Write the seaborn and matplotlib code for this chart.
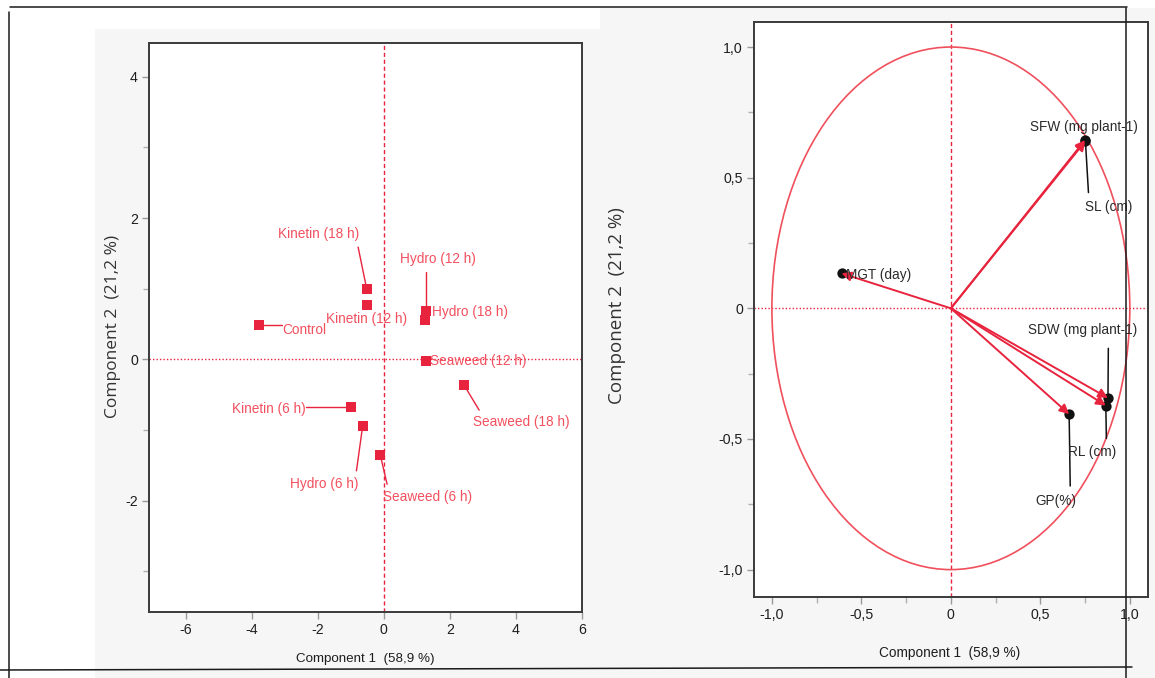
import numpy as np
import pandas as pd
import matplotlib
matplotlib.use("Agg")
import matplotlib.pyplot as plt
from matplotlib.lines import Line2D
from matplotlib.patches import Rectangle, Circle
from matplotlib.ticker import FixedLocator, FuncFormatter, MultipleLocator
import seaborn as sns

# ---------------- data ----------------
treatments = ["Kinetin (18 h)", "Kinetin (12 h)", "Control", "Hydro (12 h)", "Hydro (18 h)",
              "Seaweed (12 h)", "Seaweed (18 h)", "Kinetin (6 h)", "Hydro (6 h)", "Seaweed (6 h)"]
score_pc1 = [-0.52, -0.52, -3.77, 1.29, 1.26, 1.28, 2.44, -0.99, -0.64, -0.11]
score_pc2 = [1.00, 0.77, 0.48, 0.69, 0.55, -0.02, -0.37, -0.67, -0.94, -1.35]

variables = ["SFW (mg plant-1)", "SL (cm)", "MGT (day)", "SDW (mg plant-1)", "RL (cm)", "GP(%)"]
load_pc1 = [0.750, 0.752, -0.611, 0.878, 0.866, 0.661]
load_pc2 = [0.644, 0.640, 0.134, -0.343, -0.372, -0.405]

xlab = "Component 1  (58,9 %)"
ylab = "Component 2  (21,2 %)"

# ---------------- layout (label placement) ----------------
score_label_layout = {
    "Kinetin (18 h)": (-1.97, 1.78, "center", (-0.78, 1.59)),
    "Kinetin (12 h)": (-0.53, 0.57, "center", None),
    "Control": (-3.07, 0.41, "left", (-3.08, 0.48)),
    "Hydro (12 h)": (1.64, 1.42, "center", (1.29, 1.23)),
    "Hydro (18 h)": (1.45, 0.67, "left", None),
    "Seaweed (12 h)": (1.40, -0.03, "left", None),
    "Seaweed (18 h)": (4.18, -0.89, "center", (2.89, -0.72)),
    "Kinetin (6 h)": (-2.36, -0.70, "right", (-2.36, -0.67)),
    "Hydro (6 h)": (-1.82, -1.76, "center", (-0.83, -1.58)),
    "Seaweed (6 h)": (1.32, -1.95, "center", (0.10, -1.77)),
}
load_label_layout = {
    "SFW (mg plant-1)": (0.746, 0.693, "center", None),
    "SL (cm)": (0.884, 0.389, "center", (0.769, 0.443)),
    "MGT (day)": (-0.585, 0.126, "left", None),
    "SDW (mg plant-1)": (0.739, -0.084, "center", (0.880, -0.153)),
    "RL (cm)": (0.788, -0.549, "center", (0.869, -0.498)),
    "GP(%)": (0.587, -0.737, "center", (0.667, -0.680)),
}

RED = "#e8233d"
LABEL_RED = "#f2505e"
CIRC_RED = "#f0505c"
TICKC = "#1e1e1e"
SPINE = "#3a3a3a"
FS_TEXT = 9.8
FS_TICK = 10.2

sns.set_theme(style="ticks")
plt.rcParams["font.family"] = ["Liberation Sans Narrow", "Liberation Sans", "DejaVu Sans"]

W, H = 1155, 678
fig = plt.figure(figsize=(W / 100, H / 100), dpi=100)
fig.patch.set_facecolor("white")

def px(x0, y0, x1, y1):
    return [x0 / W, 1 - y1 / H, (x1 - x0) / W, (y1 - y0) / H]

fig.add_artist(Rectangle((95 / W, 0), 505 / W, (H - 29) / H, transform=fig.transFigure,
                         facecolor="#f6f6f6", edgecolor="none", zorder=-5))
fig.add_artist(Rectangle((600 / W, 0), 555 / W, (H - 8) / H, transform=fig.transFigure,
                         facecolor="#f6f6f6", edgecolor="none", zorder=-5))

ax1 = fig.add_axes(px(149, 43, 581.7, 611.7))
ax2 = fig.add_axes(px(754, 21.7, 1147.7, 597.3))

def style_axes(ax):
    ax.set_facecolor("white")
    for s in ax.spines.values():
        s.set_visible(True)
        s.set_color(SPINE)
        s.set_linewidth(1.4)
    ax.tick_params(which="major", direction="out", length=5, width=1, color="#9a9a9a",
                   labelsize=FS_TICK, labelcolor=TICKC, pad=3)
    ax.tick_params(which="minor", direction="out", length=4, width=1, color="#b0b0b0")
    ax.tick_params(top=False, right=False)

def comma_fmt(decimals):
    def f(v, pos):
        if abs(v) < 1e-9:
            return "0"
        return f"{v:.{decimals}f}".replace(".", ",")
    return FuncFormatter(f)

# ---------------- left: scores ----------------
df_s = pd.DataFrame({"treatment": treatments, "pc1": score_pc1, "pc2": score_pc2})
ax1.axvline(0, color=RED, lw=1.0, ls=(0, (3, 2)), zorder=1)
ax1.axhline(0, color=RED, lw=1.0, ls=(0, (1, 1.5)), zorder=1)
sns.scatterplot(data=df_s, x="pc1", y="pc2", ax=ax1, marker="s", s=42, color=RED,
                edgecolor=RED, linewidth=0, zorder=4, legend=False)
for t, x, y in zip(treatments, score_pc1, score_pc2):
    tx, ty, ha, lead = score_label_layout[t]
    if lead is not None:
        ax1.plot([lead[0], x], [lead[1], y], color=RED, lw=1.0, zorder=3)
    ax1.text(tx, ty, t, ha=ha, va="center", color=LABEL_RED, fontsize=FS_TEXT, zorder=5)
ax1.set_xlim(-7.12, 6.0)
ax1.set_ylim(-3.575, 4.48)
ax1.xaxis.set_major_locator(FixedLocator([-6, -4, -2, 0, 2, 4, 6]))
ax1.yaxis.set_major_locator(FixedLocator([-2, 0, 2, 4]))
ax1.yaxis.set_minor_locator(FixedLocator([-3, -1, 1, 3]))
ax1.xaxis.set_major_formatter(comma_fmt(0))
ax1.yaxis.set_major_formatter(comma_fmt(0))
style_axes(ax1)
ax1.set_xlabel("")
ax1.set_ylabel("")

# ---------------- right: loadings ----------------
df_l = pd.DataFrame({"var": variables, "pc1": load_pc1, "pc2": load_pc2})
ax2.axvline(0, color=RED, lw=1.0, ls=(0, (3, 2)), zorder=1)
ax2.axhline(0, color=RED, lw=1.0, ls=(0, (1, 1.5)), zorder=1)
ax2.add_patch(Circle((0, 0), 1.0, fill=False, edgecolor=CIRC_RED, lw=1.2, zorder=2))
sns.scatterplot(data=df_l, x="pc1", y="pc2", ax=ax2, marker="o", s=55, color="#111111",
                edgecolor="#111111", linewidth=0, zorder=3, legend=False)
for v, x, y in zip(variables, load_pc1, load_pc2):
    ax2.annotate("", xy=(x, y), xytext=(0, 0),
                 arrowprops=dict(arrowstyle="-|>", color=RED, lw=1.4, mutation_scale=14,
                                 shrinkA=0, shrinkB=0), zorder=4)
    tx, ty, ha, lead = load_label_layout[v]
    if lead is not None:
        ax2.plot([lead[0], x], [lead[1], y], color="#111111", lw=1.1, zorder=5)
    ax2.text(tx, ty, v, ha=ha, va="center", color="#2a2a2a", fontsize=FS_TEXT, zorder=6)
ax2.set_xlim(-1.1, 1.1)
ax2.set_ylim(-1.106, 1.097)
ax2.xaxis.set_major_locator(MultipleLocator(0.5))
ax2.yaxis.set_major_locator(MultipleLocator(0.5))
ax2.xaxis.set_minor_locator(FixedLocator([-0.75, -0.25, 0.25, 0.75]))
ax2.yaxis.set_minor_locator(FixedLocator([-0.75, -0.25, 0.25, 0.75]))
ax2.xaxis.set_major_formatter(comma_fmt(1))
ax2.yaxis.set_major_formatter(comma_fmt(1))
style_axes(ax2)
ax2.set_xlabel("")
ax2.set_ylabel("")

# axis titles
fig.text(365 / W, 1 - 659 / H, xlab, ha="center", va="center", fontsize=9.6, color=TICKC)
fig.text(950 / W, 1 - 653 / H, xlab, ha="center", va="center", fontsize=9.8, color=TICKC)
fig.text(113 / W, 1 - 326 / H, ylab, ha="center", va="center", rotation=90, fontsize=12.5,
         color="#333333", family=["Open Sans", "DejaVu Sans"])
fig.text(617 / W, 1 - 306 / H, ylab, ha="center", va="center", rotation=90, fontsize=13.5,
         color="#333333", family=["Open Sans", "DejaVu Sans"])

# screenshot frame lines
def fline(x0, y0, x1, y1):
    fig.add_artist(Line2D([x0 / W, x1 / W], [1 - y0 / H, 1 - y1 / H], transform=fig.transFigure,
                          color="#1a1a1a", lw=1.1, zorder=20))
fline(10, 7.3, 1127, 7.3)
fline(9, 12, 9, 678)
fline(0, 670, 1132, 667)
fline(1126, 8, 1126, 678)

fig.savefig("out.png", dpi=100)
